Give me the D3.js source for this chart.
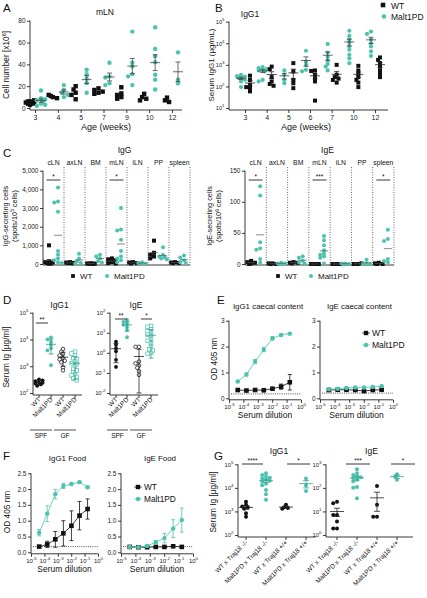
<!DOCTYPE html>
<html><head><meta charset="utf-8">
<script src="https://cdn.jsdelivr.net/npm/d3@7"></script>
<style>body{margin:0;background:#fff}</style>
</head><body><svg id="c" width="427" height="598"></svg>
<script>
// ---------------- DATA ----------------
const ageA = ["3","4","5","7","9","10","12"];
const mlnWT = [[6,5,4,3,7,5,6,4,5],[10,12,9,11],[20,17,14,12,8],[18,16.5,14,13,15],[19,13.4,12,10,8.5],[13,10,8.5,7],[9.5,7,5.5]];
const mlnPD = [[16,9,7,4,2,8,6,3],[21,16.5,14,10,12],[35,31,27,23,14],[41.5,29,28,22.6,21],[70,41.5,38,31,29,21],[74,54,47.5,42,30.5,26,17],[51,26,22.6]];

const ageB = ["3","4","5","6","7","10","12"];
const igg1WT = [[316,200,115,93,83,59],[830,630,270,170,130,107],[1200,500,200,140,83],[550,520,350,240,170,22],[1000,350,270,230,200,150],[900,550,380,270,200,150,93],[2200,1700,1200,830,550,380,270]];
const igg1PD = [[347,300,288,260,240,204,170,93],[790,700,630,600,550,500,200,170],[550,350,200,140],[4500,1400,1000,590,500],[9300,3700,2400,1600,1100,830,550],[38000,22000,15000,10700,7100,5000,2900,2000,1200],[35000,27000,15000,10000,7100,4200,2600]];

const organs = ["cLN","axLN","BM","mLN","iLN","PP","spleen"];
const iggCellsWT = [[1000,150,100,80,50,30,20],[100,80,60,50,40],[40,30,20,10,10],[300,250,200,100,50,30],[100,80,50,30],[1250,600,500,400,300],[100,80,60,50]];
const iggCellsPD = [[4100,3350,3300,2800,700,500,300,200,100,50],[550,300,150,50,30],[500,400,300,150,80],[3000,1850,1800,1300,700,400,300,200,100],[100,50,20,10],[900,500,400,350,300,250],[450,350,200,100,50]];
const igeCellsWT = [[5,3,2,1,0],[1,1,0,0],[3,2,2,1],[0,0,0,0],[0,0,0],[0,0,1],[2,1,0,0]];
const igeCellsPD = [[125,110,35,25,23,8,2],[2,1,1,0],[12,10,5,3,1],[45,38,30,22,17,15,12,10,1],[1,1,0,0],[7,1,0,0],[55,40,37,8,5,3]];

const groupsD = ["WT","Malt1PD","WT","Malt1PD"];
const housingD = ["SPF","GF"];
const dIgG1 = [[320,275,250,240,225,210,185,295],[12000,10000,8300,6300,4700,3900,1100],[4400,3500,2900,2500,2000,1800,1600,1400,900,700],[3500,3000,2500,2000,1800,1500,1300,1200,1000,800,700,600,500,450,400,350,300]];
const dIgE = [[3.6,2.5,1.7,1.2,0.45,0.2],[44,35,30,25,20,14,6],[2,2,0.37,0.3,0.23,0.18,0.12,0.08],[22,20,15,12,10,8,7,5,4,3,2,1.5,1.3,1.0,0.9]];

const dilutions = [1/24576,1/6144,1/1536,1/384,1/96,1/24,1/6];
const eIgG1PD = [0.65,0.92,1.42,1.88,2.32,2.45,2.5],  eIgG1PDerr = [0.04,0.06,0.08,0.08,0.07,0.05,0.04];
const eIgG1WT = [0.32,0.3,0.32,0.31,0.37,0.45,0.62], eIgG1WTerr = [0.03,0.03,0.03,0.03,0.04,0.1,0.3];
const eIgEPD = [0.35,0.37,0.4,0.42,0.42,0.44,0.47],  eIgEPDerr = [0.03,0.03,0.03,0.03,0.03,0.03,0.04];
const eIgEWT = [0.32,0.33,0.33,0.32,0.28,0.32,0.33], eIgEWTerr = [0.03,0.03,0.03,0.03,0.03,0.03,0.03];
const eCutoff = [0.17,0.2];
const fIgG1PD = [0.62,1.22,1.84,2.1,2.16,2.22,2.06], fIgG1PDerr = [0.1,0.25,0.15,0.08,0.03,0.03,0.03];
const fIgG1WT = [0.18,0.25,0.41,0.6,0.84,1.16,1.37], fIgG1WTerr = [0.02,0.1,0.25,0.4,0.47,0.45,0.32];
const fIgEPD = [0.17,0.16,0.2,0.32,0.45,0.75,1.02],  fIgEPDerr = [0.02,0.02,0.03,0.05,0.15,0.28,0.38];
const fIgEWT = [0.17,0.16,0.16,0.17,0.17,0.19,0.17], fIgEWTerr = [0.02,0.02,0.02,0.02,0.02,0.02,0.02];
const fCutoff = [0.18,0.18];

const groupsG = ["WT x Traj18 -/-","Malt1PD x Traj18 -/-","WT x Traj18 +/+","Malt1PD x Traj18 +/+"];
const gIgG1 = [[2600,1900,1600,1500,1300,830,600],[42000,35000,30000,27000,25000,22000,20000,18000,15000,13000,8100,5400,3100],[1900,1500,1400,1300],[25000,13000,7400]];
const gIgE = [[26,22,7,7,3.7,1.9,1.9],[620,420,350,310,280,260,220,190,110,100,36],[120,19,6,6],[380,300,220]];

// ---------------- HELPERS ----------------
const TEAL = "#4cc3af", BLACK = "#111";
const FONT = "Liberation Sans, Arial, Helvetica, sans-serif";
const svg = d3.select("#c");

function text(g,x,y,s,o={}){
  const t=g.append("text").attr("x",x).attr("y",y).text(s)
    .attr("font-family",FONT).attr("font-size",o.size||8)
    .attr("text-anchor",o.anchor||"middle").attr("fill",o.fill||"#111");
  if(o.rot!==undefined) t.attr("transform",`rotate(${o.rot},${x},${y})`);
  return t;
}
function styleAxis(ax,fs=6.5){
  ax.select(".domain").remove();
  ax.selectAll(".tick line").attr("stroke","#222").attr("stroke-width",0.9);
  ax.selectAll("text").attr("font-family",FONT).attr("font-size",fs).attr("fill","#222");
}
function powTicks(ax){
  ax.selectAll(".tick text").each(function(d){
    const e=Math.round(Math.log10(d)); const t=d3.select(this); t.text("");
    t.append("tspan").text("10");
    t.append("tspan").text(e).attr("font-size",4.4).attr("dy",-3);
  });
}
function line(g,x1,y1,x2,y2,o={}){
  const l=g.append("line").attr("x1",x1).attr("y1",y1).attr("x2",x2).attr("y2",y2)
   .attr("stroke",o.color||"#222").attr("stroke-width",o.w||0.9);
  if(o.dash) l.attr("stroke-dasharray",o.dash);
  return l;
}
function yAxis(g,x0,y,ticks,o={}){
  const ax=g.append("g").attr("transform",`translate(${x0},0)`)
    .call(d3.axisLeft(y).tickValues(ticks).tickSize(3).tickPadding(1.5).tickFormat(o.fmt||null));
  styleAxis(ax,o.fs||6.5);
  if(o.log) powTicks(ax);
  const r=y.range();
  line(g,x0,Math.min(...r),x0,o.bottom!==undefined?o.bottom:Math.max(...r));
  return ax;
}
function xAxisLog(g,x,yy,ticks){
  const ax=g.append("g").attr("transform",`translate(0,${yy})`)
    .call(d3.axisBottom(x).tickValues(ticks).tickSize(3).tickPadding(1.5));
  styleAxis(ax,6); powTicks(ax);
  const r=x.range(); line(g,r[0],yy,r[1],yy);
}
function xAxisCat(g,x,yy,x0,x1){
  const ax=g.append("g").attr("transform",`translate(0,${yy})`)
    .call(d3.axisBottom(x).tickSize(3).tickPadding(2));
  styleAxis(ax,7);
  line(g,x0,yy,x1,yy);
  return ax;
}
// deterministic compact swarm (allows some overlap, as in the reference)
function swarm(vals,y,r,maxK=2){
  const placed=[];
  const ks=[0];
  for(let k=1;k<=maxK;k++){ks.push(-k,k);}
  return vals.map(v=>{
    const py=y(v);
    const c=ks.map(k=>k*r*0.95);
    let best=null,bestD=-1;
    for(const cx of c){
      const d=placed.length?Math.min(...placed.map(p=>Math.hypot(p[0]-cx,p[1]-py))):99;
      if(d>=r*1.5){best=cx;break;}
      if(d>bestD){bestD=d;best=cx;}
    }
    placed.push([best,py]); return [best,py];
  });
}
function marker(g,x,y,o){
  const r=o.r||2.2;
  let m;
  if(o.shape==="square") m=g.append("rect").attr("x",x-r).attr("y",y-r).attr("width",2*r).attr("height",2*r);
  else m=g.append("circle").attr("cx",x).attr("cy",y).attr("r",r);
  if(o.open) m.attr("fill","#fff").attr("stroke",o.color).attr("stroke-width",0.75);
  else m.attr("fill",o.color);
  return m;
}
function dotGroup(g,cx,vals,y,o){
  swarm(vals,y,o.r||2.2,o.maxK||2).forEach(([dx,py])=>marker(g,cx+dx,py,o));
}
function meanErr(g,cx,vals,y,o){
  const m=d3.mean(vals), sd=d3.deviation(vals)||0;
  const e=o.sd?sd:sd/Math.sqrt(vals.length);
  let lo=m-e, hi=m+e; const d0=y.domain()[0];
  if(lo<=d0) lo=d0;
  const c=o.color||"#333", h=o.half||6, cap=o.cap||3, w=o.w||0.9;
  line(g,cx-h,y(m),cx+h,y(m),{color:c,w});
  if(o.noErr) return;
  line(g,cx,y(lo),cx,y(hi),{color:c,w});
  line(g,cx-cap,y(lo),cx+cap,y(lo),{color:c,w});
  line(g,cx-cap,y(hi),cx+cap,y(hi),{color:c,w});
}
function sig(g,x1,x2,yy,s){
  line(g,x1,yy,x2,yy,{w:0.9});
  text(g,(x1+x2)/2,yy-1.5,s,{size:6.5});
}
function yLabel(g,x,y,s,size=8.5){ return text(g,x,y,s,{rot:-90,size}); }

// Panel letters
[["A",3,12],["B",215,12],["C",3,157],["D",3,304],["E",217,304],["F",3,460],["G",214,460]]
 .forEach(([l,x,y])=>text(svg,x,y,l,{size:11.5,anchor:"start"}));

// ---------------- PANEL A ----------------
{
  const g=svg.append("g");
  const x=d3.scalePoint().domain(ageA).range([35,172]);
  const y=d3.scaleLinear().domain([0,80]).range([108,20.7]);
  yAxis(g,30,y,[0,20,40,60,80],{bottom:110});
  xAxisCat(g,x,110,30,182);
  ageA.forEach((a,i)=>{
    dotGroup(g,x(a)-5,mlnWT[i],y,{shape:"square",color:BLACK,r:2.2});
    dotGroup(g,x(a)+6,mlnPD[i],y,{shape:"circle",color:TEAL,r:2.2});
    meanErr(g,x(a)+6,mlnPD[i],y,{half:5,cap:2.5,color:"#444",w:0.8});
  });
  text(g,105,15,"mLN",{size:8.5});
  text(g,106,130,"Age (weeks)",{size:9});
  const t=yLabel(g,9,65,"Cell number [x10",8.3);
  t.append("tspan").text("6").attr("font-size",5.5).attr("dy",-3);
  t.append("tspan").text("]").attr("dy",3);
}
// ---------------- PANEL B ----------------
{
  const g=svg.append("g");
  const x=d3.scalePoint().domain(ageB).range([245,375]);
  const y=d3.scaleLog().domain([10,1e5]).range([108,21.7]);
  yAxis(g,229,y,[10,100,1000,1e4,1e5],{log:true,bottom:110,fs:5.6});
  xAxisCat(g,x,110,229,388);
  ageB.forEach((a,i)=>{
    dotGroup(g,x(a)-4,igg1PD[i],y,{shape:"circle",color:TEAL,r:2.1});
    dotGroup(g,x(a)+5,igg1WT[i],y,{shape:"square",color:BLACK,r:2.0});
    meanErr(g,x(a)-4,igg1PD[i],y,{half:5,cap:2.5,color:"#444",w:0.8});
    meanErr(g,x(a)+5,igg1WT[i],y,{half:5,cap:2.5,color:"#222",w:0.8});
  });
  text(g,250,17,"IgG1",{size:8.5});
  text(g,306,130,"Age (weeks)",{size:9});
  yLabel(g,214,65,"Serum IgG1 (\u00b5g/mL)",8);
  marker(g,383,5,{shape:"square",color:BLACK,r:2.3});
  text(g,391,8.5,"WT",{size:8.5,anchor:"start"});
  marker(g,384,16.5,{shape:"circle",color:TEAL,r:2.3});
  text(g,391,20,"Malt1PD",{size:8.5,anchor:"start"});
}
// ---------------- PANEL C ----------------
function panelC(g,x0,x1,ymax,ticks,wt,pd,title,sigs){
  const x=d3.scaleBand().domain(organs).range([x0,x1]);
  const y=d3.scaleLinear().domain([0,ymax]).range([264,170.7]);
  yAxis(g,x0,y,ticks,{bottom:265});
  line(g,x0,265,x1,265);
  organs.forEach((o,i)=>{
    const cx=x(o)+x.bandwidth()/2;
    line(g,x(o)+x.bandwidth(),167,x(o)+x.bandwidth(),265,{dash:"1,1.5",w:0.8,color:"#444"});
    text(g,cx,165,o,{size:6.8});
    dotGroup(g,cx-4.5,wt[i],y,{shape:"square",color:BLACK,r:2.0});
    dotGroup(g,cx+4.5,pd[i],y,{shape:"circle",color:TEAL,r:2.0});
    meanErr(g,cx+4.5,pd[i],y,{half:4,color:"#555",w:0.7,noErr:true});
    meanErr(g,cx-4.5,wt[i],y,{half:4,color:"#555",w:0.7,noErr:true});
  });
  sigs.forEach(([o,s])=>{const cx=x(o)+x.bandwidth()/2; sig(g,cx-7,cx+7,180,s);});
  text(g,(x0+x1)/2+8,153,title,{size:8.5});
  return x;
}
{
  const g=svg.append("g");
  panelC(g,43,190,5000,[0,1000,2000,3000,4000,5000],iggCellsWT,iggCellsPD,"IgG",[["cLN","*"],["mLN","*"]]);
  yLabel(g,8,216,"IgG-secreting cells",7.3);
  const t2=yLabel(g,16.5,216,"(spots/10",7.3);
  t2.append("tspan").text("5").attr("font-size",4.8).attr("dy",-2.5);
  t2.append("tspan").text(" cells)").attr("dy",2.5);
  panelC(g,245,394,150,[0,50,100,150],igeCellsWT,igeCellsPD,"IgE",[["cLN","*"],["mLN","***"],["spleen","*"]]);
  yLabel(g,212,216,"IgE-secreting cells",7.3);
  const t3=yLabel(g,221,216,"(spots/10",7.3);
  t3.append("tspan").text("6").attr("font-size",4.8).attr("dy",-2.5);
  t3.append("tspan").text(" cells)").attr("dy",2.5);
  [[73,107],[278,311]].forEach(([a,b])=>{
    marker(g,a,276,{shape:"square",color:BLACK,r:1.9});
    text(g,a+7,279,"WT",{size:8,anchor:"start"});
    marker(g,b,276,{shape:"circle",color:TEAL,r:2});
    text(g,b+7,279,"Malt1PD",{size:8,anchor:"start"});
  });
}
// ---------------- PANEL D ----------------
function panelD(g,x0,x1,cats,y,data,ticks,title,sigs){
  const styles=[{shape:"circle",color:BLACK,r:1.9},{shape:"circle",color:TEAL,r:1.9},
                {shape:"circle",color:BLACK,r:1.8,open:true},{shape:"square",color:TEAL,r:1.8,open:true}];
  yAxis(g,x0,y,ticks,{log:true,bottom:395,fs:5.8});
  line(g,x0,395,x1,395);
  data.forEach((vals,i)=>{
    const st=styles[i];
    dotGroup(g,cats[i],vals,y,st);
    meanErr(g,cats[i],vals,y,{sd:true,half:5,cap:2.5,color:i%2?"#2a9c89":"#222",w:0.8});
    line(g,cats[i],395,cats[i],398);
    text(g,cats[i]+2,400,groupsD[i],{size:6.5,anchor:"end",rot:-45});
  });
  housingD.forEach((h,j)=>{
    const a=cats[2*j]-9, b=cats[2*j+1]+1;
    line(g,a,430,b,430,{w:0.8});
    text(g,(a+b)/2,438,h,{size:6.5});
  });
  sigs.forEach(([a,b,yy,s])=>sig(g,a,b,yy,s));
  text(g,(x0+x1)/2+2,308,title,{size:8.5});
}
{
  const g=svg.append("g");
  const y1=d3.scaleLog().domain([100,1e5]).range([393,312.7]);
  panelD(g,33,82,[39,51,63,75],y1,dIgG1,[100,1000,1e4,1e5],"IgG1",[[36,48,323,"**"]]);
  const y2=d3.scaleLog().domain([0.01,100]).range([393,312.7]);
  panelD(g,110,158,[116,127,139,151],y2,dIgE,[0.01,0.1,1,10,100],"IgE",[[115,127,319,"**"],[141,152,319,"*"]]);
  yLabel(g,9,357,"Serum Ig [\u00b5g/ml]",8.3);
}
// ---------------- PANELS E & F ----------------
function odPanel(g,x0,x1,yTop,yBot,ymax,ticks,fmt,series,cutoff,title){
  const x=d3.scaleLog().domain([1e-5,1]).range([x0,x1]);
  const y=d3.scaleLinear().domain([0,ymax]).range([yBot,yTop]);
  yAxis(g,x0,y,ticks,{fmt,bottom:yBot+1.5});
  xAxisLog(g,x,yBot+1.5,[1e-5,1e-4,1e-3,1e-2,1e-1,1]);
  line(g,x0+2,y(cutoff),x1,y(cutoff),{dash:"1,1.2",w:0.8,color:"#222"});
  series.forEach(s=>{
    g.append("path").datum(dilutions.map((d,i)=>[x(d),y(s.v[i])]))
      .attr("d",d3.line()).attr("fill","none").attr("stroke",s.color).attr("stroke-width",0.8);
    dilutions.forEach((d,i)=>{
      const cx=x(d), e=s.e[i];
      line(g,cx,y(s.v[i]-e),cx,y(s.v[i]+e),{color:s.color,w:0.8});
      line(g,cx-2,y(s.v[i]-e),cx+2,y(s.v[i]-e),{color:s.color,w:0.8});
      line(g,cx-2,y(s.v[i]+e),cx+2,y(s.v[i]+e),{color:s.color,w:0.8});
      marker(g,cx,y(s.v[i]),{shape:s.shape,color:s.color,r:s.shape==="square"?2.3:2.2});
    });
  });
  text(g,(x0+x1)/2,yBot+19.5,"Serum dilution",{size:8.5});
  text(g,(x0+x1)/2+3,yTop-12,title,{size:7.9});
}
function odLegend(g,x,y,size){
  marker(g,x,y,{shape:"square",color:BLACK,r:2.2});
  line(g,x-4,y,x+4,y,{color:BLACK,w:0.7});
  text(g,x+6,y+3,"WT",{size,anchor:"start"});
  marker(g,x,y+12,{shape:"circle",color:TEAL,r:2.2});
  line(g,x-4,y+12,x+4,y+12,{color:TEAL,w:0.7});
  text(g,x+6,y+15,"Malt1PD",{size,anchor:"start"});
}
{
  const g=svg.append("g");
  odPanel(g,229,301,320.7,398.3,3,[0,1,2,3],d3.format("d"),
    [{v:eIgG1WT,e:eIgG1WTerr,color:BLACK,shape:"square"},{v:eIgG1PD,e:eIgG1PDerr,color:TEAL,shape:"circle"}],eCutoff[0],"IgG1 caecal content");
  odPanel(g,320,393,320.7,398.3,3,[0,1,2,3],d3.format("d"),
    [{v:eIgEWT,e:eIgEWTerr,color:BLACK,shape:"square"},{v:eIgEPD,e:eIgEPDerr,color:TEAL,shape:"circle"}],eCutoff[1],"IgE caecal content");
  odLegend(g,366,333,8.5);
  yLabel(g,217,359,"OD 405 nm",8.3);

  odPanel(g,31,98,473.3,552.3,2.5,[0,0.5,1,1.5,2,2.5],d3.format(".1f"),
    [{v:fIgG1WT,e:fIgG1WTerr,color:BLACK,shape:"square"},{v:fIgG1PD,e:fIgG1PDerr,color:TEAL,shape:"circle"}],fCutoff[0],"IgG1 Food");
  odPanel(g,121,193,473.3,552.3,2.5,[0,0.5,1,1.5,2,2.5],d3.format(".1f"),
    [{v:fIgEWT,e:fIgEWTerr,color:BLACK,shape:"square"},{v:fIgEPD,e:fIgEPDerr,color:TEAL,shape:"circle"}],fCutoff[1],"IgE Food");
  odLegend(g,138,487,8.3);
  yLabel(g,10,512,"OD 405 nm",8.3);
}
// ---------------- PANEL G ----------------
function panelG(g,x0,x1,cats,y,data,ticks,title,sigs){
  yAxis(g,x0,y,ticks,{log:true,bottom:537,fs:5.8});
  line(g,x0,537,x1,537);
  data.forEach((vals,i)=>{
    const col=i%2?TEAL:BLACK;
    dotGroup(g,cats[i],vals,y,{shape:"circle",color:col,r:2.0});
    meanErr(g,cats[i],vals,y,{half:7,cap:3,color:i%2?"#3aa593":"#222",w:0.8});
    line(g,cats[i],537,cats[i],540);
    text(g,cats[i]+2,543,groupsG[i],{size:6.5,anchor:"end",rot:-45});
  });
  sigs.forEach(([a,b,s])=>sig(g,a,b,464,s));
  text(g,(x0+x1)/2+2,454,title,{size:8.5});
}
{
  const g=svg.append("g");
  const y1=d3.scaleLog().domain([100,1e5]).range([535,464.3]);
  panelG(g,238,316,[246,266,286,306],y1,gIgG1,[100,1000,1e4,1e5],"IgG1",[[242,263,"****"],[287,310,"*"]]);
  const y2=d3.scaleLog().domain([1,1000]).range([535,464.3]);
  panelG(g,326,413,[337,357,377,397],y2,gIgE,[1,10,100,1000],"IgE",[[346,370,"***"],[391,415,"*"]]);
  yLabel(g,216,502,"Serum Ig [\u00b5g/ml]",8.3);
}
</script></body></html>
